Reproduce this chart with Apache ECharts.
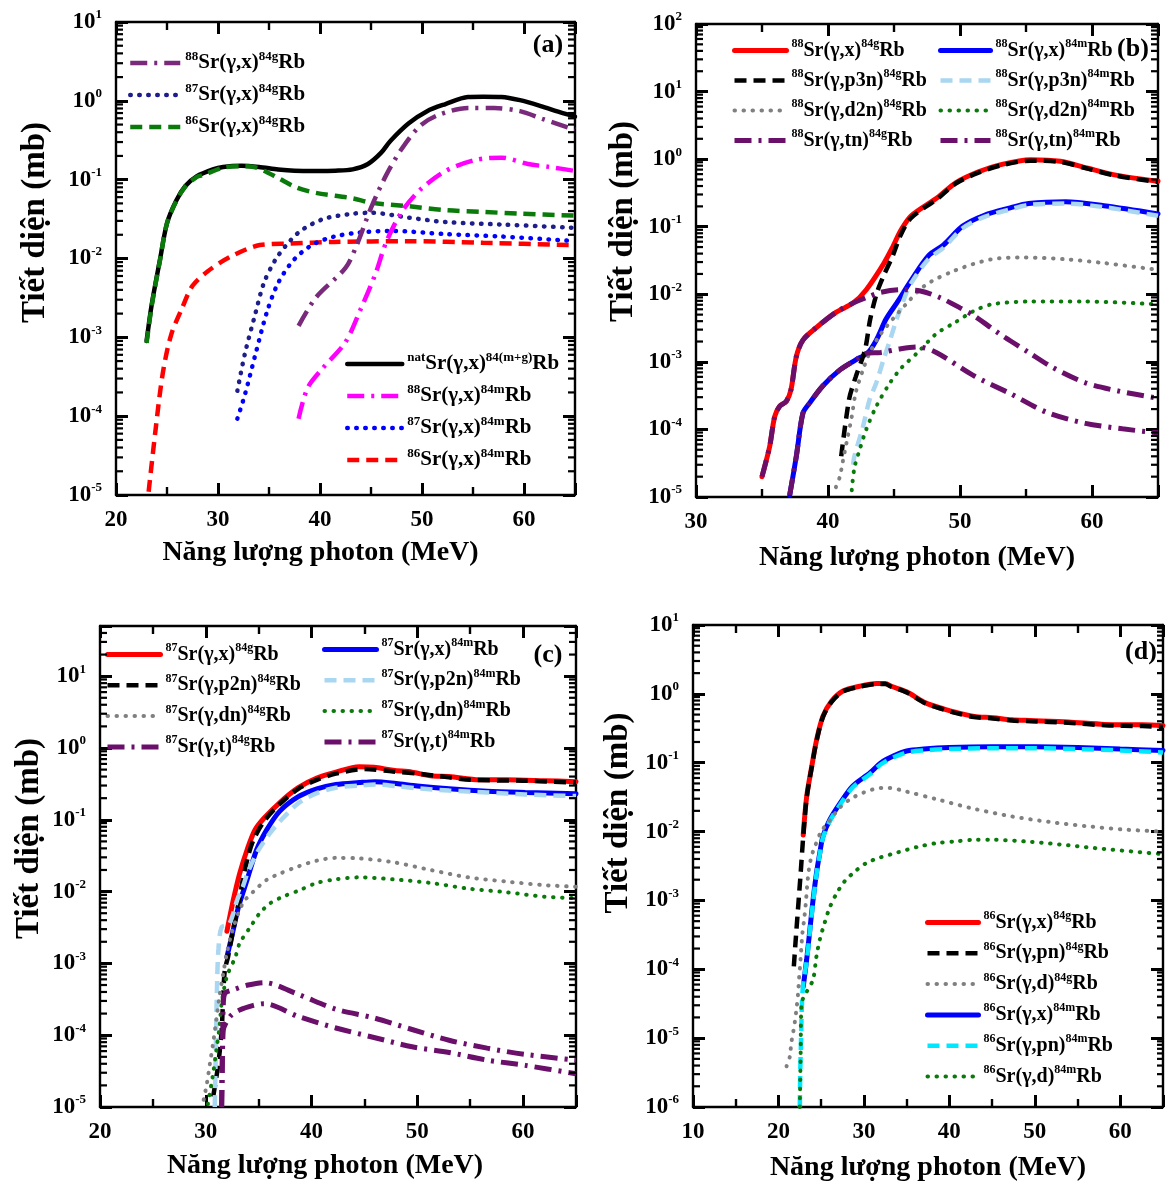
<!DOCTYPE html>
<html><head><meta charset="utf-8">
<script src="https://cdn.jsdelivr.net/npm/echarts@6/dist/echarts.min.js"></script>
<style>html,body{margin:0;padding:0;background:#fff}#c{width:1166px;height:1190px}</style>
</head><body><div id="c"></div>
<script>
// ================= DATA (photon energy MeV, cross section mb) =================
const xTicksA = [20, 30, 40, 50, 60];
const xTicksB = [30, 40, 50, 60];
const xTicksD = [10, 20, 30, 40, 50, 60];

// ---------- Panel (a) ----------
const a_natSr_x_84mgRb = [[23.0,9.0e-4],[23.5,2.6e-3],[24.3,9.5e-3],[25.0,0.028],[25.9,0.054],[26.8,0.083],[27.9,0.11],[29.5,0.135],[30.5,0.145],[32.3,0.15],[34.0,0.145],[35.9,0.135],[37.5,0.13],[39.6,0.129],[41.5,0.13],[43.2,0.135],[44.7,0.158],[46.0,0.22],[46.9,0.31],[48.7,0.52],[50.5,0.74],[52.3,0.91],[54.5,1.12],[56.0,1.13],[57.8,1.12],[59.6,1.02],[61.5,0.87],[63.0,0.75],[65.0,0.63]];
const a_88Sr_x_84gRb = [[37.9,1.4e-3],[39.6,3.2e-3],[42.5,7.6e-3],[43.6,0.0148],[45.0,0.044],[46.5,0.115],[48.0,0.245],[49.8,0.48],[51.6,0.66],[54.5,0.81],[57.1,0.81],[59.6,0.74],[61.8,0.59],[65.0,0.43]];
const a_87Sr_x_84gRb = [[31.9,2.1e-4],[32.65,6.3e-4],[33.6,1.86e-3],[34.5,4.9e-3],[35.6,9.5e-3],[36.7,0.0148],[38.1,0.0224],[40.3,0.0316],[43.2,0.037],[45.0,0.038],[48.7,0.033],[52.3,0.029],[57.8,0.027],[65.0,0.0245]];
const a_86Sr_x_84gRb = [[23.0,8.5e-4],[23.5,2.5e-3],[24.3,9.3e-3],[25.0,0.028],[25.9,0.053],[26.8,0.082],[27.9,0.108],[28.6,0.115],[30.5,0.142],[32.3,0.148],[33.5,0.145],[34.5,0.13],[35.9,0.105],[37.75,0.079],[39.6,0.068],[43.2,0.058],[45.0,0.051],[48.7,0.046],[52.3,0.041],[56.0,0.039],[59.6,0.037],[65.0,0.035]];
const a_88Sr_x_84mRb = [[37.9,9.3e-5],[38.8,2.3e-4],[40.3,4.1e-4],[42.5,8.7e-4],[44.0,2.3e-3],[45.4,6.2e-3],[46.5,0.0162],[48.0,0.039],[49.8,0.074],[52.3,0.129],[55.25,0.178],[57.8,0.19],[60.4,0.158],[62.5,0.145],[65.0,0.129]];
const a_87Sr_x_84mRb = [[31.9,9.3e-5],[32.65,1.9e-4],[33.7,6.3e-4],[34.8,2.1e-3],[35.9,4.9e-3],[37.4,9.5e-3],[39.2,0.0148],[41.4,0.019],[44.0,0.0214],[46.9,0.0224],[52.3,0.0204],[57.8,0.019],[65.0,0.0166]];
const a_86Sr_x_84mRb = [[23.2,1.1e-5],[23.9,7.1e-5],[24.6,3.6e-4],[25.4,1.07e-3],[26.45,2.3e-3],[27.5,4.5e-3],[29.0,6.9e-3],[31.2,0.0105],[34.1,0.0148],[37.0,0.0155],[41.4,0.0162],[48.7,0.0166],[56.0,0.0158],[65.0,0.0148]];

// ---------- Panel (b) ----------
const b_88Sr_x_84gRb = [[35.0,2.0e-5],[35.58,5.6e-5],[35.96,1.55e-4],[36.34,2.2e-4],[36.84,2.6e-4],[37.2,3.9e-4],[37.6,1.2e-3],[38.1,2.1e-3],[39.1,3.2e-3],[40.6,5.4e-3],[41.9,7.4e-3],[42.9,0.0117],[44.2,0.028],[44.9,0.05],[45.5,0.087],[46.3,0.145],[48.3,0.27],[49.7,0.45],[51.4,0.65],[53.1,0.83],[55.35,0.98],[57.6,0.93],[59.6,0.74],[61.8,0.58],[65.0,0.47]];
const b_88Sr_p3n_84gRb = [[41.0,4.0e-5],[41.6,2.8e-4],[42.1,6.0e-4],[42.8,1.5e-3],[43.2,4.3e-3],[43.7,0.0105],[44.2,0.0186],[44.9,0.037],[45.5,0.075],[46.3,0.135],[48.3,0.26],[49.7,0.44],[51.4,0.63],[53.1,0.81],[55.35,0.95],[57.6,0.91],[59.6,0.73],[61.8,0.57],[65.0,0.46]];
const b_88Sr_d2n_84gRb = [[40.6,1.4e-5],[40.9,2.0e-5],[41.1,3.2e-5],[41.4,6.3e-5],[41.8,1.55e-4],[42.1,3.5e-4],[42.65,7.6e-4],[43.15,1.35e-3],[44.0,2.6e-3],[45.9,7.1e-3],[47.35,0.0135],[49.6,0.0224],[52.4,0.033],[54.9,0.035],[58.0,0.033],[60.9,0.029],[65.0,0.023]];
const b_88Sr_tn_84gRb = [[35.0,2.0e-5],[35.58,5.6e-5],[35.96,1.55e-4],[36.34,2.2e-4],[36.84,2.6e-4],[37.2,3.9e-4],[37.6,1.2e-3],[38.1,2.1e-3],[39.1,3.2e-3],[40.6,5.4e-3],[41.9,7.4e-3],[43.0,9.1e-3],[44.0,0.0107],[45.5,0.0117],[47.0,0.0112],[48.5,8.9e-3],[50.0,6.3e-3],[51.0,4.9e-3],[53.0,2.6e-3],[55.2,1.38e-3],[57.0,8.3e-4],[59.5,4.9e-4],[62.0,3.7e-4],[65.0,2.9e-4]];
const b_88Sr_x_84mRb = [[37.1,1.07e-5],[37.6,4.0e-5],[38.1,1.74e-4],[38.6,2.45e-4],[39.6,4.4e-4],[40.9,7.6e-4],[42.1,1.07e-3],[43.0,1.35e-3],[43.66,2.1e-3],[44.4,4.3e-3],[45.2,7.4e-3],[45.7,0.0105],[46.2,0.015],[47.6,0.037],[48.76,0.054],[50.2,0.102],[51.85,0.148],[53.8,0.19],[55.2,0.22],[58.0,0.234],[60.9,0.204],[65.0,0.155]];
const b_88Sr_p3n_84mRb = [[41.9,3.0e-5],[42.0,4.0e-5],[42.65,1.1e-4],[43.15,2.75e-4],[43.66,4.9e-4],[44.2,1.07e-3],[44.7,2.1e-3],[45.2,4.3e-3],[45.55,6.6e-3],[46.2,0.0135],[47.6,0.033],[48.76,0.049],[50.2,0.095],[51.85,0.14],[53.8,0.18],[55.2,0.21],[58.0,0.22],[60.9,0.195],[65.0,0.145]];
const b_88Sr_d2n_84mRb = [[41.8,1.26e-5],[42.0,2.7e-5],[42.4,5.0e-5],[42.9,1.0e-4],[43.66,2.2e-4],[44.7,4.9e-4],[45.55,8.1e-4],[46.8,1.38e-3],[48.2,2.6e-3],[49.6,3.8e-3],[51.0,5.6e-3],[52.4,7.1e-3],[55.2,7.8e-3],[59.5,7.8e-3],[65.0,7.1e-3]];
const b_88Sr_tn_84mRb = [[37.1,1.07e-5],[37.6,4.0e-5],[38.1,1.74e-4],[38.6,2.45e-4],[39.6,4.4e-4],[40.9,7.6e-4],[42.1,1.07e-3],[43.0,1.35e-3],[44.0,1.38e-3],[45.4,1.55e-3],[46.8,1.66e-3],[48.2,1.38e-3],[51.0,6.3e-4],[53.8,3.4e-4],[56.6,1.78e-4],[59.5,1.23e-4],[62.3,1.02e-4],[65.0,8.9e-5]];

// ---------- Panel (c) ----------
const c_87Sr_x_84gRb = [[32.0,2.8e-3],[32.6,7.6e-3],[33.2,0.0178],[33.9,0.038],[34.65,0.072],[35.5,0.105],[37.0,0.174],[38.75,0.28],[40.5,0.38],[42.3,0.46],[44.5,0.55],[45.9,0.54],[47.7,0.49],[49.5,0.46],[51.25,0.41],[53.0,0.40],[55.9,0.36],[58.4,0.36],[62.0,0.35],[65.0,0.34]];
const c_87Sr_p2n_84gRb = [[30.7,1.4e-5],[31.0,2.6e-5],[31.2,4.1e-5],[31.5,1.17e-4],[31.65,3.5e-4],[31.8,8.1e-4],[32.1,1.23e-3],[32.6,2.95e-3],[33.1,6.9e-3],[33.5,0.0145],[34.0,0.031],[34.5,0.052],[35.5,0.095],[37.0,0.166],[38.75,0.27],[40.5,0.36],[42.3,0.44],[45.0,0.51],[47.7,0.47],[50.0,0.44],[53.0,0.39],[55.0,0.36],[60.0,0.35],[65.0,0.33]];
const c_87Sr_dn_84gRb = [[29.8,1.26e-5],[30.1,2.1e-5],[30.4,4.1e-5],[30.7,7.8e-5],[31.3,3.5e-4],[31.65,7.2e-4],[32.0,1.4e-3],[32.5,2.8e-3],[33.5,6.9e-3],[34.5,0.01],[35.75,0.0145],[37.0,0.0178],[38.75,0.0224],[40.5,0.027],[42.3,0.0295],[44.5,0.029],[47.7,0.0257],[51.25,0.02],[54.8,0.0158],[58.4,0.0138],[62.0,0.0123],[65.0,0.0117]];
const c_87Sr_t_84gRb = [[31.5,1.0e-5],[31.55,3.2e-5],[31.6,1.0e-4],[31.65,2.5e-4],[31.8,3.8e-4],[32.6,4.3e-4],[34.0,5.0e-4],[35.5,5.4e-4],[38.75,3.7e-4],[42.3,2.3e-4],[45.9,1.74e-4],[49.5,1.2e-4],[53.0,8.5e-5],[56.6,6.6e-5],[60.2,5.4e-5],[65.0,4.5e-5]];
const c_87Sr_x_84mRb = [[32.0,1.23e-3],[32.6,2.95e-3],[33.1,6.2e-3],[33.9,0.0145],[34.8,0.038],[35.75,0.072],[37.0,0.132],[38.75,0.21],[40.5,0.27],[42.3,0.31],[44.5,0.33],[46.0,0.34],[48.0,0.32],[50.0,0.295],[53.0,0.27],[56.6,0.25],[60.2,0.24],[65.0,0.23]];
const c_87Sr_p2n_84mRb = [[30.85,1.0e-5],[30.95,6.3e-5],[31.05,4.0e-4],[31.2,1.6e-3],[31.5,3.2e-3],[32.2,3.5e-3],[33.0,7.9e-3],[33.5,0.0117],[34.0,0.019],[35.0,0.038],[36.0,0.063],[37.0,0.095],[38.75,0.17],[40.5,0.235],[42.3,0.28],[44.5,0.30],[46.0,0.31],[48.0,0.295],[50.0,0.275],[53.0,0.255],[56.6,0.24],[60.2,0.225],[65.0,0.214]];
const c_87Sr_dn_84mRb = [[30.2,1.1e-5],[30.7,2.95e-5],[31.0,6.2e-5],[31.3,1.32e-4],[31.5,2.75e-4],[32.0,6.6e-4],[32.8,1.23e-3],[33.2,1.9e-3],[34.2,3.2e-3],[35.1,5.0e-3],[36.1,6.9e-3],[37.3,8.5e-3],[38.9,0.0105],[40.5,0.0132],[42.3,0.0148],[44.5,0.0158],[47.7,0.0148],[51.25,0.0132],[54.8,0.011],[58.4,9.8e-3],[62.0,8.5e-3],[65.0,8.1e-3]];
const c_87Sr_t_84mRb = [[31.5,1.0e-5],[31.55,3.2e-5],[31.6,7.9e-5],[31.65,1.17e-4],[32.3,1.82e-4],[33.2,2.24e-4],[34.5,2.6e-4],[35.5,2.75e-4],[38.75,1.82e-4],[42.3,1.26e-4],[45.9,9.3e-5],[49.5,6.9e-5],[53.0,5.75e-5],[56.6,4.5e-5],[60.2,3.8e-5],[65.0,2.9e-5]];

// ---------- Panel (d) ----------
const d_86Sr_x_84gRb = [[22.9,8.9e-3],[23.3,0.032],[23.9,0.089],[24.45,0.21],[25.2,0.47],[26.2,0.78],[27.55,1.1],[29.5,1.29],[31.5,1.41],[32.5,1.41],[33.2,1.29],[35.0,1.07],[37.2,0.74],[39.4,0.60],[40.7,0.54],[42.9,0.47],[45.1,0.45],[47.3,0.42],[49.5,0.41],[53.9,0.39],[58.2,0.36],[62.6,0.355],[65.0,0.345]];
const d_86Sr_pn_84gRb = [[21.8,1.1e-4],[22.0,2.5e-4],[22.3,7.9e-4],[22.6,2.5e-3],[22.9,8.5e-3],[23.3,0.031],[23.9,0.087],[24.45,0.205],[25.2,0.46],[26.2,0.76],[27.55,1.08],[29.5,1.27],[31.5,1.39],[32.5,1.39],[33.2,1.27],[35.0,1.05],[37.2,0.73],[39.4,0.59],[40.7,0.53],[42.9,0.46],[45.1,0.44],[47.3,0.41],[49.5,0.40],[53.9,0.38],[58.2,0.35],[62.6,0.34],[65.0,0.33]];
const d_86Sr_d_84gRb = [[20.95,3.9e-6],[21.33,5.4e-6],[21.5,8.5e-6],[21.7,1.17e-5],[21.9,1.66e-5],[22.1,2.6e-5],[22.3,4.5e-5],[22.4,7.1e-5],[22.5,1.0e-4],[22.8,3.3e-4],[23.0,5.2e-4],[23.2,9.1e-4],[23.35,1.58e-3],[23.55,2.75e-3],[23.87,4.4e-3],[24.25,6.0e-3],[25.0,0.01],[26.0,0.0145],[27.2,0.0224],[28.5,0.030],[30.0,0.037],[32.0,0.043],[33.0,0.043],[35.0,0.038],[38.5,0.0295],[42.9,0.0214],[47.3,0.0166],[51.7,0.0138],[56.0,0.012],[60.4,0.0107],[65.0,0.01]];
const d_86Sr_x_84mRb = [[22.9,5.6e-5],[23.3,1.38e-4],[23.67,3.7e-4],[24.05,1.02e-3],[24.45,2.5e-3],[24.84,4.9e-3],[25.2,8.5e-3],[26.0,0.0148],[27.2,0.0257],[28.7,0.046],[30.7,0.071],[32.0,0.1],[33.5,0.126],[35.0,0.148],[37.0,0.158],[40.0,0.166],[45.0,0.17],[50.0,0.17],[55.0,0.166],[60.0,0.158],[65.0,0.151]];
const d_86Sr_pn_84mRb = [[22.5,1.0e-6],[22.55,3.2e-6],[22.65,1.0e-5],[22.75,3.2e-5],[22.9,6.3e-5],[23.3,1.3e-4],[23.67,3.5e-4],[24.05,9.5e-4],[24.45,2.4e-3],[24.84,4.7e-3],[25.2,8.1e-3],[26.0,0.0141],[27.2,0.0245],[28.7,0.044],[30.7,0.068],[32.0,0.095],[33.5,0.12],[35.0,0.141],[37.0,0.151],[40.0,0.158],[45.0,0.162],[50.0,0.162],[55.0,0.158],[60.0,0.151],[65.0,0.141]];
const d_86Sr_d_84mRb = [[22.5,1.0e-6],[22.6,6.3e-6],[22.7,3.2e-5],[23.3,4.7e-5],[24.05,7.1e-5],[24.45,1.55e-4],[24.84,2.7e-4],[25.4,4.7e-4],[26.0,7.9e-4],[26.8,1.26e-3],[27.75,1.9e-3],[28.9,2.6e-3],[30.3,3.5e-3],[31.9,4.2e-3],[34.0,5.0e-3],[36.3,6.0e-3],[38.5,6.8e-3],[40.7,7.2e-3],[43.0,7.6e-3],[45.0,7.6e-3],[49.5,7.1e-3],[54.0,6.3e-3],[58.0,5.6e-3],[65.0,4.7e-3]];

// Text
const xName = 'Năng lượng photon (MeV)';
const yName = 'Tiết diện (mb)';
const panelLabels = ['(a)', '(b)', '(c)', '(d)'];

// ================= CHART =================
const FONT = '"Liberation Serif","Times New Roman",serif';
const DASH = [12, 7], DOT = [0.5, 8.5], DASHDOT = [17, 7, 3, 7];
const C = { red:'#ff0000', black:'#000000', blue:'#0000ff', navy:'#1d1d8c', magenta:'#ff00ff',
  green:'#0a7a0a', gray:'#808080', purple:'#6a0f6a', purpleA:'#7a2a7a', light:'#a9d6f0', cyan:'#00e8ff' };

function ser(name, data, gi, color, dash, width) {
  const ls = { color, width: width || 4.5 };
  if (dash === 'dash') { ls.type = DASH; ls.cap = 'butt'; }
  else if (dash === 'dot') { ls.type = DOT; ls.cap = 'round'; }
  else if (dash === 'dashdot') { ls.type = DASHDOT; ls.cap = 'butt'; }
  else { ls.type = 'solid'; ls.cap = 'round'; }
  return { name, type: 'line', data, xAxisIndex: gi, yAxisIndex: gi, symbol: 'none', showSymbol: false,
    smooth: 0.3, lineStyle: ls, itemStyle: { color }, silent: true, animation: false };
}

const grids = [
  { left: 116, top: 22, width: 459, height: 473 },
  { left: 696, top: 24, width: 462, height: 473 },
  { left: 100, top: 626, width: 476, height: 481 },
  { left: 693, top: 625, width: 471, height: 482 }
];
const xRange = [[20, 65], [30, 65], [20, 65], [10, 65]];
const yRange = [[1e-5, 10, 6], [1e-5, 100, 7], [1e-5, 50, 7], [1e-6, 10, 7]];
const xNameGap = [44, 47, 45, 47];
const xNamePad = [[0, 50, 0, 0], [0, 20, 0, 0], [0, 26, 0, 0], [0, 0, 0, 0]];
const yNameGap = [64, 56, 54, 58];
const yNamePad = [[0, 0, 0, 72], [0, 0, 0, 78], [0, 0, 0, 56], [0, 0, 0, 106]];

function axisLineStyle() { return { show: true, onZero: false, lineStyle: { color: '#000', width: 2.4 } }; }
function tickStyle() { return { show: true, inside: true, length: 12, lineStyle: { color: '#000', width: 3 } }; }
function minorX() { return { show: true, splitNumber: 2, length: 8, lineStyle: { color: '#000', width: 2.4 } }; }

// log minor tick values (2..9 × 10^n) inside each y range
function logMinors(min, max) {
  const out = [];
  for (let e = Math.round(Math.log10(min)); e < Math.ceil(Math.log10(max)); e++) {
    for (let k = 2; k <= 9; k++) { const v = k * Math.pow(10, e); if (v > min && v < max) out.push(v); }
  }
  return out;
}

const xAxes = [], yAxes = [];
for (let g = 0; g < 4; g++) {
  xAxes.push({ gridIndex: g, type: 'value', position: 'bottom', min: xRange[g][0], max: xRange[g][1], interval: 10,
    axisLine: axisLineStyle(), axisTick: tickStyle(), minorTick: minorX(),
    axisLabel: { margin: 14, color: '#000', fontFamily: FONT, fontWeight: 'bold', fontSize: 23,
      formatter: v => (v % 10 === 0 ? String(v) : '') },
    splitLine: { show: false },
    name: xName, nameLocation: 'middle', nameGap: xNameGap[g],
    nameTextStyle: { fontFamily: FONT, fontWeight: 'bold', fontSize: 28, color: '#000', padding: xNamePad[g] } });
}
for (let g = 0; g < 4; g++) {
  xAxes.push({ gridIndex: g, type: 'value', position: 'top', min: xRange[g][0], max: xRange[g][1], interval: 10,
    axisLine: axisLineStyle(), axisTick: tickStyle(), minorTick: minorX(), splitLine: { show: false }, axisLabel: { show: false } });
}
const yFmt = v => {
  const e = Math.log10(v), r = Math.round(e);
  if (Math.abs(e - r) > 1e-6) return '';
  return '{b|10}{s|' + r + '}';
};
for (let g = 0; g < 4; g++) {
  yAxes.push({ gridIndex: g, type: 'log', logBase: 10, position: 'left', min: yRange[g][0], max: yRange[g][1], splitNumber: yRange[g][2],
    axisLine: axisLineStyle(), axisTick: tickStyle(), splitLine: { show: false },
    axisLabel: { margin: 14, formatter: yFmt, rich: {
      b: { fontFamily: FONT, fontWeight: 'bold', fontSize: 23, color: '#000' },
      s: { fontFamily: FONT, fontWeight: 'bold', fontSize: 13, color: '#000', padding: [0, 0, 14, 0] } } },
    name: yName, nameLocation: 'middle', nameGap: yNameGap[g], nameRotate: 90,
    nameTextStyle: { fontFamily: FONT, fontWeight: 'bold', fontSize: 33, color: '#000', padding: yNamePad[g] } });
}
for (let g = 0; g < 4; g++) {
  yAxes.push({ gridIndex: g, type: 'log', logBase: 10, position: 'right', min: yRange[g][0], max: yRange[g][1], splitNumber: yRange[g][2],
    axisLine: axisLineStyle(), axisTick: tickStyle(), splitLine: { show: false }, axisLabel: { show: false } });
}

// series names: panel|pre-superscript|main|post-superscript|tail
const N = {
  a_nat: 'a|nat|Sr(γ,x)|84(m+g)|Rb', a_88g: 'a|88|Sr(γ,x)|84g|Rb', a_87g: 'a|87|Sr(γ,x)|84g|Rb', a_86g: 'a|86|Sr(γ,x)|84g|Rb',
  a_88m: 'a|88|Sr(γ,x)|84m|Rb', a_87m: 'a|87|Sr(γ,x)|84m|Rb', a_86m: 'a|86|Sr(γ,x)|84m|Rb',
  b_xg: 'b|88|Sr(γ,x)|84g|Rb', b_pg: 'b|88|Sr(γ,p3n)|84g|Rb', b_dg: 'b|88|Sr(γ,d2n)|84g|Rb', b_tg: 'b|88|Sr(γ,tn)|84g|Rb',
  b_xm: 'b|88|Sr(γ,x)|84m|Rb', b_pm: 'b|88|Sr(γ,p3n)|84m|Rb', b_dm: 'b|88|Sr(γ,d2n)|84m|Rb', b_tm: 'b|88|Sr(γ,tn)|84m|Rb',
  c_xg: 'c|87|Sr(γ,x)|84g|Rb', c_pg: 'c|87|Sr(γ,p2n)|84g|Rb', c_dg: 'c|87|Sr(γ,dn)|84g|Rb', c_tg: 'c|87|Sr(γ,t)|84g|Rb',
  c_xm: 'c|87|Sr(γ,x)|84m|Rb', c_pm: 'c|87|Sr(γ,p2n)|84m|Rb', c_dm: 'c|87|Sr(γ,dn)|84m|Rb', c_tm: 'c|87|Sr(γ,t)|84m|Rb',
  d_xg: 'd|86|Sr(γ,x)|84g|Rb', d_pg: 'd|86|Sr(γ,pn)|84g|Rb', d_dg: 'd|86|Sr(γ,d)|84g|Rb',
  d_xm: 'd|86|Sr(γ,x)|84m|Rb', d_pm: 'd|86|Sr(γ,pn)|84m|Rb', d_dm: 'd|86|Sr(γ,d)|84m|Rb'
};

const series = [
  ser(N.a_nat, a_natSr_x_84mgRb, 0, C.black, 'solid', 4.5),
  ser(N.a_86g, a_86Sr_x_84gRb, 0, C.green, 'dash', 4.5),
  ser(N.a_86m, a_86Sr_x_84mRb, 0, C.red, 'dash', 4.5),
  ser(N.a_87g, a_87Sr_x_84gRb, 0, C.navy, 'dot', 4.5),
  ser(N.a_87m, a_87Sr_x_84mRb, 0, C.blue, 'dot', 4.5),
  ser(N.a_88g, a_88Sr_x_84gRb, 0, C.purpleA, 'dashdot', 4.5),
  ser(N.a_88m, a_88Sr_x_84mRb, 0, C.magenta, 'dashdot', 4.5),

  ser(N.b_xg, b_88Sr_x_84gRb, 1, C.red, 'solid', 5),
  ser(N.b_xm, b_88Sr_x_84mRb, 1, C.blue, 'solid', 5),
  ser(N.b_pg, b_88Sr_p3n_84gRb, 1, C.black, 'dash', 4.5),
  ser(N.b_pm, b_88Sr_p3n_84mRb, 1, C.light, 'dash', 4.5),
  ser(N.b_dg, b_88Sr_d2n_84gRb, 1, C.gray, 'dot', 4),
  ser(N.b_dm, b_88Sr_d2n_84mRb, 1, C.green, 'dot', 4),
  ser(N.b_tg, b_88Sr_tn_84gRb, 1, C.purple, 'dashdot', 5),
  ser(N.b_tm, b_88Sr_tn_84mRb, 1, C.purple, 'dashdot', 5),

  ser(N.c_xg, c_87Sr_x_84gRb, 2, C.red, 'solid', 5),
  ser(N.c_xm, c_87Sr_x_84mRb, 2, C.blue, 'solid', 5),
  ser(N.c_pg, c_87Sr_p2n_84gRb, 2, C.black, 'dash', 4.5),
  ser(N.c_pm, c_87Sr_p2n_84mRb, 2, C.light, 'dash', 4.5),
  ser(N.c_dg, c_87Sr_dn_84gRb, 2, C.gray, 'dot', 4),
  ser(N.c_dm, c_87Sr_dn_84mRb, 2, C.green, 'dot', 4),
  ser(N.c_tg, c_87Sr_t_84gRb, 2, C.purple, 'dashdot', 5),
  ser(N.c_tm, c_87Sr_t_84mRb, 2, C.purple, 'dashdot', 5),

  ser(N.d_xg, d_86Sr_x_84gRb, 3, C.red, 'solid', 5),
  ser(N.d_xm, d_86Sr_x_84mRb, 3, C.blue, 'solid', 5),
  ser(N.d_pg, d_86Sr_pn_84gRb, 3, C.black, 'dash', 4.5),
  ser(N.d_pm, d_86Sr_pn_84mRb, 3, C.cyan, 'dash', 4.5),
  ser(N.d_dg, d_86Sr_d_84gRb, 3, C.gray, 'dot', 4),
  ser(N.d_dm, d_86Sr_d_84mRb, 3, C.green, 'dot', 4)
];

function legendFmt(name) {
  const p = name.split('|');
  return '{s|' + p[1] + '}{t|' + p[2] + '}{s|' + p[3] + '}{t|' + p[4] + '}';
}
function mkLegend(data, left, top, itemWidth, gap, fs, ss) {
  return { data, left, top, orient: 'vertical', itemWidth, itemHeight: 14, itemGap: gap, selectedMode: false,
    formatter: legendFmt, padding: 0, itemStyle: { opacity: 0 },
    lineStyle: { width: 'inherit', type: 'inherit', cap: 'inherit' },
    textStyle: { lineHeight: 24, rich: {
      t: { fontFamily: FONT, fontWeight: 'bold', fontSize: fs, color: '#000', lineHeight: 24 },
      s: { fontFamily: FONT, fontWeight: 'bold', fontSize: ss, color: '#000', padding: [0, 0, 13, 0] } } } };
}
const legends = [
  mkLegend([N.a_88g, N.a_87g, N.a_86g], 128, 50, 50, 7, 21, 13),
  mkLegend([N.a_nat, N.a_88m, N.a_87m, N.a_86m], 345, 351, 55, 7, 21, 13),
  mkLegend([N.b_xg, N.b_pg, N.b_dg, N.b_tg], 732, 38, 52, 5.5, 20, 12),
  mkLegend([N.b_xm, N.b_pm, N.b_dm, N.b_tm], 938, 38, 50, 5.5, 20, 12),
  mkLegend([N.c_xg, N.c_pg, N.c_dg, N.c_tg], 105, 642, 53, 6.3, 20, 12),
  mkLegend([N.c_xm, N.c_pm, N.c_dm, N.c_tm], 322, 637, 52, 6.3, 20, 12),
  mkLegend([N.d_xg, N.d_pg, N.d_dg, N.d_xm, N.d_pm, N.d_dm], 925, 910, 51, 6.3, 20, 12)
];

const labelPos = [[548, 45], [1133, 49], [548, 655], [1141, 652]];
const graphic = panelLabels.map((t, i) => ({ type: 'text', x: labelPos[i][0], y: labelPos[i][1], z: 100,
  style: { text: t, font: 'bold 26px ' + FONT, fill: '#000', align: 'center', verticalAlign: 'middle' } }));

const chart = echarts.init(document.getElementById('c'), null, { renderer: 'canvas' });
chart.setOption({ animation: false, backgroundColor: '#fff', grid: grids, xAxis: xAxes, yAxis: yAxes,
  legend: legends, series, graphic });

// Log-scale minor ticks on both vertical frame sides, positioned through the axis scale
const minorTicks = [];
for (let g = 0; g < 4; g++) {
  const L = grids[g].left, R = grids[g].left + grids[g].width;
  for (const v of logMinors(yRange[g][0], yRange[g][1])) {
    const y = chart.convertToPixel({ yAxisIndex: g }, v);
    if (y == null || isNaN(y)) continue;
    minorTicks.push({ type: 'line', silent: true, z: 50, shape: { x1: L, y1: y, x2: L + 7, y2: y }, style: { stroke: '#000', lineWidth: 2.2 } });
    minorTicks.push({ type: 'line', silent: true, z: 50, shape: { x1: R - 7, y1: y, x2: R, y2: y }, style: { stroke: '#000', lineWidth: 2.2 } });
  }
}
chart.setOption({ graphic: graphic.concat(minorTicks) });
</script></body></html>
